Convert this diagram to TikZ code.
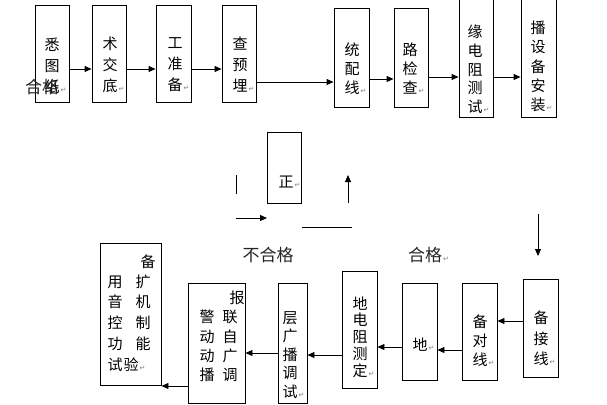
\documentclass[tikz,border=0pt]{standalone}
\usepackage{fontspec}
\newfontfamily\cjk{Noto Sans CJK SC}
\newfontfamily\dejavu{DejaVu Sans}
\usetikzlibrary{arrows.meta}
\newcommand{\retmark}{\rlap{\dejavu\fontsize{7}{7}\selectfont\color{gray}\,↵}}
\begin{document}
\begin{tikzpicture}[x=1pt,y=-1pt,
  box/.style={draw, line width=0.9pt, inner sep=0pt},
  arr/.style={line width=0.9pt, -{Triangle[length=7pt,width=6pt]}},
  ln/.style={line width=0.9pt},
  txt/.style={font=\cjk\fontsize{15}{#1}\selectfont, align=center, inner sep=0pt},
  txt/.default=20,
  ch/.style={font=\cjk\fontsize{15}{15}\selectfont, inner sep=0pt},
  lbl/.style={font=\cjk\fontsize{17}{17}\selectfont, inner sep=0pt, text=black!85}]
\clip (0,0) rectangle (607,404);
\fill[white] (0,0) rectangle (607,404);
% top row boxes
\node[box, minimum width=34pt, minimum height=97pt] (b1) at (52,53.5) {};
\node[box, minimum width=34pt, minimum height=97pt] (b2) at (109,53.5) {};
\node[box, minimum width=35pt, minimum height=97pt] (b3) at (173.5,53.5) {};
\node[box, minimum width=34pt, minimum height=97pt] (b4) at (239,53.5) {};
\node[box, minimum width=35pt, minimum height=99pt] (b5) at (351.5,57.5) {};
\node[box, minimum width=34pt, minimum height=99pt] (b6) at (411,57.5) {};
\node[box, minimum width=34pt, minimum height=127pt] (b7) at (476,53.5) {};
\node[box, minimum width=35pt, minimum height=127pt] (b8) at (538.5,53.5) {};
\node[txt=21] (t1) at (52,66) {悉\\图\\纸\retmark};
\node[txt=21] (t2) at (110,65) {术\\交\\底\retmark};
\node[txt=21] (t3) at (175,65) {工\\准\\备\retmark};
\node[txt=21] (t4) at (240,65) {查\\预\\埋\retmark};
\node[txt=19] (t5) at (352,69) {统\\配\\线\retmark};
\node[txt=19] (t6) at (410,69) {路\\检\\查\retmark};
\node[txt=18.75] (t7) at (475,69.5) {缘\\电\\阻\\测\\试\retmark};
\node[txt=19.25] (t8) at (538,66.5) {播\\设\\备\\安\\装\retmark};
\node[lbl] (ok1) at (42,87) {合格};
% top arrows
\draw[arr] (b1.east|-0,69) -- (b2.west|-0,69);
\draw[arr] (b2.east|-0,69) -- (b3.west|-0,69);
\draw[arr] (b3.east|-0,69) -- (b4.west|-0,69);
\draw[arr] (b4.east|-0,82) -- (b5.west|-0,82);
\draw[arr] (b5.east|-0,79) -- (b6.west|-0,79);
\draw[arr] (b6.east|-0,77) -- (b7.west|-0,77);
\draw[arr] (b7.east|-0,77) -- (b8.west|-0,77);
% middle
\node[box, minimum width=34pt, minimum height=71pt] (bz) at (284,167.5) {};
\node[ch] (tz) at (286,182) {正\retmark};
\coordinate (v1) at (236,175); \coordinate (v2) at (236,194);
\draw[ln] (v1) -- (v2);
\coordinate (a1) at (236,218); \coordinate (a2) at (267,218);
\draw[arr] (a1) -- (a2);
\coordinate (h1) at (302,227); \coordinate (h2) at (352,227);
\draw[ln] (h1) -- (h2);
\coordinate (u1) at (348,203); \coordinate (u2) at (348,175);
\draw[arr] (u1) -- (u2);
\coordinate (d1) at (538,214); \coordinate (d2) at (538,256);
\draw[arr] (d1) -- (d2);
\node[lbl] (nok) at (268,255) {不合格};
\node[lbl] (ok2) at (425,255) {合格\retmark};
% bottom row boxes
\node[box, minimum width=61pt, minimum height=142pt] (c1) at (130.5,314) {};
\node[box, minimum width=57pt, minimum height=120pt] (c2) at (216.5,343) {};
\node[box, minimum width=29pt, minimum height=120pt] (c3) at (292.5,343) {};
\node[box, minimum width=35pt, minimum height=117pt] (c4) at (359.5,329.5) {};
\node[box, minimum width=35pt, minimum height=97pt] (c5) at (419.5,331.5) {};
\node[box, minimum width=35pt, minimum height=97pt] (c6) at (479.5,331.5) {};
\node[box, minimum width=35pt, minimum height=98pt] (c7) at (540.5,328) {};
% bottom texts
\node[txt=20.5] (s7) at (541,338.5) {备\\接\\线\retmark};
\node[txt=19] (s6) at (480,341) {备\\对\\线\retmark};
\node[ch] (s5) at (420,345) {地\retmark};
\node[txt=16.75] (s4) at (360,337) {地\\电\\阻\\测\\定\retmark};
\node[txt=18.5] (s3) at (290,355) {层\\广\\播\\调\\试\retmark};
\foreach \c/\x/\y [count=\i] in {报/237/298, 警/207/317, 联/230/317, 动/207/337, 自/230/337, 动/207/356, 广/230/356, 播/207/375, 调/230/375}
  \node[ch] (r\i) at (\x,\y) {\c};
\foreach \c/\x/\y [count=\i] in {备/148/262, 用/115/282, 扩/143/282, 音/115/302, 机/143/302, 控/115/323, 制/143/323, 功/115/344, 能/143/344, 试/115/365}
  \node[ch] (q\i) at (\x,\y) {\c};
\node[ch] (q11) at (131,365) {验\retmark};
% bottom arrows
\draw[arr] (c7.west|-0,321) -- (c6.east|-0,321);
\draw[arr] (c6.west|-0,350) -- (c5.east|-0,350);
\draw[arr] (c5.west|-0,347) -- (c4.east|-0,347);
\draw[arr] (c4.west|-0,355) -- (c3.east|-0,355);
\draw[arr] (c3.west|-0,353) -- (c2.east|-0,353);
\draw[arr] (c2.west|-0,386) -- (c1.east|-0,386);
\end{tikzpicture}
\end{document}
